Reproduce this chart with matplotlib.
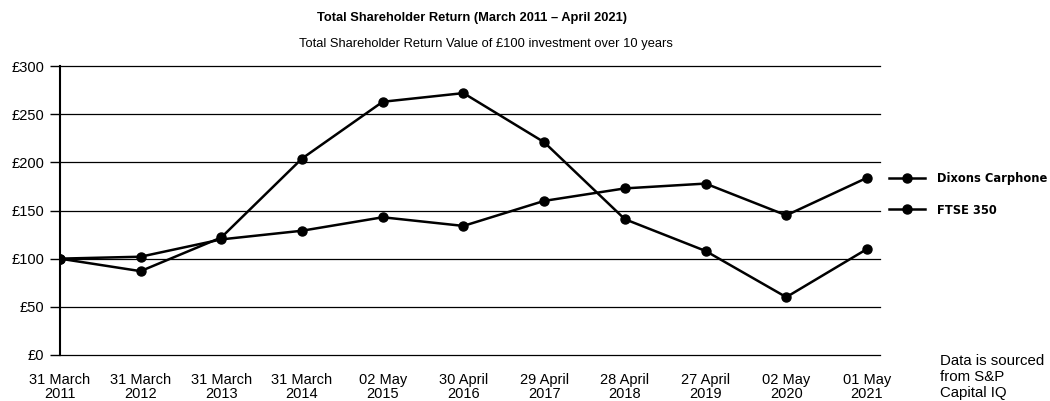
import matplotlib
matplotlib.use("agg")
import matplotlib.pyplot as plt

plt.rcParams["font.family"] = ["Liberation Sans", "DejaVu Sans"]

dates = ["31 March\n2011", "31 March\n2012", "31 March\n2013", "31 March\n2014",
         "02 May\n2015", "30 April\n2016", "29 April\n2017", "28 April\n2018",
         "27 April\n2019", "02 May\n2020", "01 May\n2021"]
dixons = [100, 87, 122, 204, 263, 272, 221, 141, 108, 60, 110]
ftse = [100, 102, 120, 129, 143, 134, 160, 173, 178, 145, 184]
y_ticks = [0, 50, 100, 150, 200, 250, 300]

fig = plt.figure(figsize=(10.5, 4.01), dpi=100)
ax = fig.add_axes([0.057, 0.115, 0.781, 0.72])

x = list(range(len(dates)))
l1, = ax.plot(x, dixons, color="black", lw=1.8, marker="o", ms=6.5, label="Dixons Carphone")
l2, = ax.plot(x, ftse, color="black", lw=1.8, marker="o", ms=6.5, label="FTSE 350")

ax.set_xlim(0, 10.16)
ax.set_ylim(0, 300)
ax.set_yticks(y_ticks)
ax.set_yticklabels([f"£{v}" for v in y_ticks], fontsize=10.5)
ax.set_xticks(x)
ax.set_xticklabels(dates, fontsize=10.5, linespacing=1.0)
ax.tick_params(axis="x", length=0, pad=13)
ax.tick_params(axis="y", length=7, width=1, pad=4)
for v in y_ticks:
    ax.axhline(v, color="black", lw=0.9, zorder=0, clip_on=False)
for s in ["top", "right", "bottom"]:
    ax.spines[s].set_visible(False)
ax.spines["left"].set_linewidth(1.5)

fig.text(0.4495, 0.955, "Total Shareholder Return (March 2011 – April 2021)",
         ha="center", va="center", fontsize=9.3, fontweight="bold")
fig.text(0.463, 0.89, "Total Shareholder Return Value of £100 investment over 10 years",
         ha="center", va="center", fontsize=9.3)

fig.legend(handles=[l1, l2], loc="center left", bbox_to_anchor=(0.836, 0.515),
           frameon=False, handlelength=2.8, labelspacing=1.45, handletextpad=0.9,
           prop={"family": "DejaVu Sans", "stretch": "condensed", "weight": "bold", "size": 9.2})

fig.text(0.895, 0.06, "Data is sourced\nfrom S&P\nCapital IQ", ha="left", va="center",
         fontsize=10.8, linespacing=1.2)

fig.savefig("out.png", dpi=100, facecolor="white")
